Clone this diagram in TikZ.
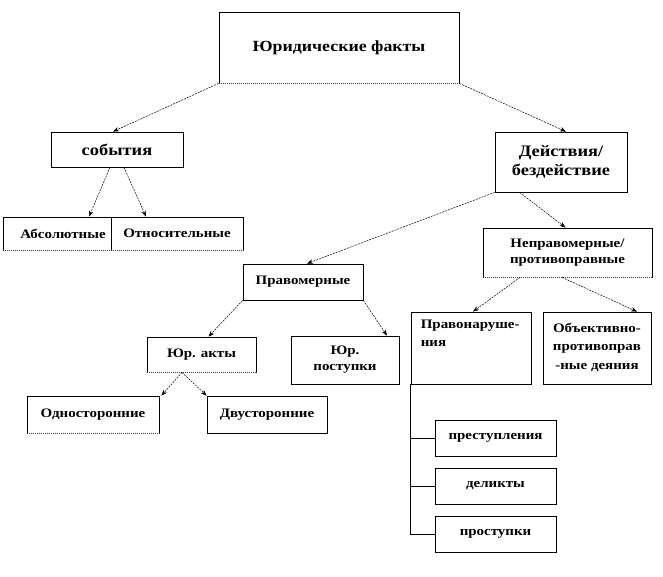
\documentclass[tikz,border=0pt]{standalone}
\usepackage{fontspec}
\setmainfont{Liberation Serif}[FakeStretch=1.15]
\usetikzlibrary{arrows.meta}
\begin{document}
\begin{tikzpicture}[x=1pt,y=-1pt,
  box/.style={draw, line width=0.8pt, fill=white, inner sep=0pt, align=center,
    font=\bfseries\fontsize{13}{16}\selectfont},
  arr/.style={-{Stealth[length=6pt,width=4.5pt]}, dash pattern=on 2pt off 1pt, line width=0.5pt},
  tree/.style={line width=0.6pt},
  erase/.style={white, line width=1.2pt},
  dotbottom/.style={black!75, line width=0.8pt, dash pattern=on 1pt off 1pt}]
\fill[white] (0,0) rectangle (663,576);
\useasboundingbox (0,0) rectangle (663,576);
% nodes
\node[box, minimum width=240pt, minimum height=71pt, font=\bfseries\fontsize{15.5}{18}\selectfont] (top) at (339,47.5) {Юридические факты};
\node[box, minimum width=132pt, minimum height=35pt, font=\bfseries\fontsize{16}{18}\selectfont] (sob) at (117,149.5) {события};
\node[box, minimum width=120pt, minimum height=33pt] (abs) at (63,233.5) {Абсолютные};
\node[box, minimum width=132pt, minimum height=33pt] (otn) at (177,233.5) {Относительные};
\node[box, minimum width=132pt, minimum height=60pt, font=\bfseries\fontsize{16}{19}\selectfont] (dei) at (561,162) {Действия/\\бездействие};
\node[box, minimum width=169pt, minimum height=49pt] (nepr) at (567.5,252.5) {Неправомерные/\\противоправные};
\node[box, minimum width=120pt, minimum height=36pt] (prav) at (303,282) {Правомерные};
\node[box, minimum width=109pt, minimum height=35pt] (yuakt) at (201.5,354.5) {Юр. акты};
\node[box, minimum width=108pt, minimum height=48pt] (yupost) at (345,360) {Юр.\\поступки};
\node[box, minimum width=132pt, minimum height=37pt] (odn) at (93,414.5) {Односторонние};
\node[box, minimum width=120pt, minimum height=37pt] (dvu) at (267,414.5) {Двусторонние};
\node[box, minimum width=120pt, minimum height=72pt,
  label={[anchor=north west, align=left, inner sep=0pt, xshift=10pt, yshift=-8pt,
    font=\bfseries\fontsize{13}{18}\selectfont]north west:{Правонаруше-\\ния}}] (pravon) at (471,348) {};
\node[box, minimum width=108pt, minimum height=72pt,
  label={[anchor=north, align=center, inner sep=0pt, yshift=-11pt,
    font=\bfseries\fontsize{13}{18.5}\selectfont]north:{Объективно-\\противоправ\\-ные деяния}}] (obj) at (597,348) {};
\node[box, minimum width=121pt, minimum height=36pt] (prest) at (495.5,438) {преступления};
\node[box, minimum width=121pt, minimum height=36pt] (del) at (495.5,486) {деликты};
\node[box, minimum width=121pt, minimum height=36pt] (prost) at (495.5,534) {проступки};
% dotted bottom edges
\foreach \n in {top,abs,otn,nepr,yuakt,odn}{
  \draw[erase] ([xshift=0.6pt]\n.south west) -- ([xshift=-0.6pt]\n.south east);
  \draw[dotbottom] (\n.south west) -- (\n.south east);
}
% connectors
\draw[arr] (top.south west) -- ([xshift=-4pt]sob.north);
\draw[arr] (top.south east) -- ([xshift=5pt]dei.north);
\draw[arr] ([xshift=-7pt]sob.south) -- ([xshift=26pt]abs.north);
\draw[arr] ([xshift=7pt]sob.south) -- ([xshift=-31pt]otn.north);
\draw[arr] (dei.south west) -- ([xshift=4pt]prav.north);
\draw[arr] ([xshift=25pt]dei.south west) -- ([xshift=-2pt]nepr.north);
\draw[arr] (prav.south west) -- ([xshift=7pt]yuakt.north);
\draw[arr] (prav.south east) -- ([xshift=42pt]yupost.north);
\draw[arr] ([xshift=-19.5pt]yuakt.south) -- ([xshift=2pt]odn.north east);
\draw[arr] ([xshift=-19.5pt]yuakt.south) -- (dvu.north west);
\draw[arr] ([xshift=-47.5pt]nepr.south) -- ([xshift=2pt]pravon.north);
\draw[arr] ([xshift=-5.5pt]nepr.south) -- ([xshift=40pt]obj.north);
\draw[tree] (pravon.south west) |- (prost.west);
\draw[tree] (pravon.south west |- prest.west) -- (prest.west);
\draw[tree] (pravon.south west |- del.west) -- (del.west);
\end{tikzpicture}
\end{document}
